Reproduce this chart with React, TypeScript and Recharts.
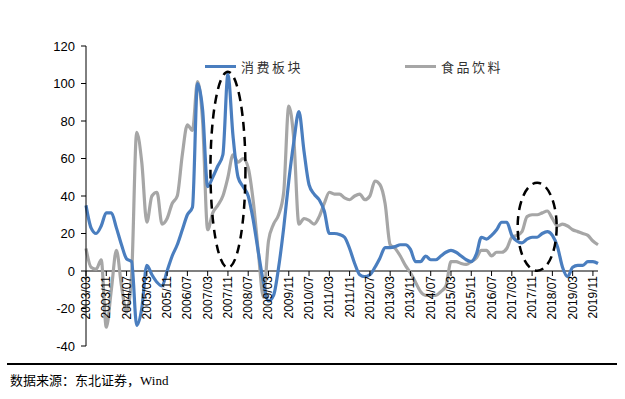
import React from 'react';
import { LineChart, Line, XAxis, YAxis, ReferenceLine, ReferenceDot } from 'recharts';

// bi-monthly points, 2003/03 .. 2020/01
const months: string[] = [];
for (let i = 0; i < 102; i++) {
  const m = 2 + i * 2; // 0-based month offset from 2003/01
  const y = 2003 + Math.floor(m / 12);
  const mm = (m % 12) + 1;
  months.push(`${y}/${mm < 10 ? '0' + mm : mm}`);
}

const consumer = [
  35, 23, 20, 24, 31, 31, 23, 14, 6.5, 5,
  -29, -20, 3, -2, -6, -8, 0, 8, 14, 22,
  30, 34, 100, 86, 45, 50, 56, 62, 105, 72,
  50, 45, 40, 27, 10, -6, -16, -13, 2, 23,
  48, 69, 85, 64, 46, 41, 38, 32, 20, 20,
  19.5, 18, 12, 4, -2, -3, -2, 2, 7, 12.5,
  12.5, 13, 14, 14, 11.5, 5, 5, 8, 6, 6,
  8, 10, 11, 10, 8, 6, 5, 9, 18, 17,
  19, 22, 26, 26, 19, 16, 15, 17, 18, 18,
  20, 21, 19, 13, 2, -3, 2, 3, 3, 5,
  5, 4,
];

const foodBev = [
  12, 2, 1, 6, -30, -10, 11, -8, -22, -2,
  74, 58, 26, 40, 42, 25, 28, 36, 40, 62,
  78, 75, 101, 80, 22, 31, 35, 40, 50, 62,
  58, 60, 55, 37, 10, -14, 16, 25, 30, 42,
  88, 70, 25, 28, 27, 25, 29, 36, 42, 41,
  41, 39, 38, 40, 41, 38, 40, 48, 46, 36,
  14, 12, 8, 3, -1, -6, -11, -13, -13, -13,
  -11, -8, 5, 5, 4, 3.5, 5, 7, 11, 11,
  8, 10, 10, 12, 18, 19, 21, 29, 30, 30,
  31, 32, 28, 24, 25, 24, 22, 21, 20, 19,
  16, 14,
];

const yTicks = [-40, -20, 0, 20, 40, 60, 80, 100, 120];

const data = months.map((m, i) => ({ month: m, consumer: consumer[i], foodBev: foodBev[i] }));

const BLUE = '#4a7ebf';
const GRAY = '#a6a6a6';
const TOP = 46;
const PLOT_H = 300;
const ZERO_Y = TOP + PLOT_H * (120 / 160);

function MonthTick(props: any) {
  const { x, payload } = props;
  return (
    <g transform={`translate(${x},${ZERO_Y})`}>
      <line x1={0} y1={0} x2={0} y2={5} stroke="#000" />
      <text transform="rotate(-90)" x={-5} y={4} textAnchor="end" fontSize={12} fill="#000"
        fontFamily="'Liberation Sans', Arial, sans-serif">
        {payload.value}
      </text>
    </g>
  );
}

function LegendItem({ left, color, label }: { left: number; color: string; label: string }) {
  return (
    <div style={{ position: 'absolute', left, top: 56, display: 'flex', alignItems: 'center', height: 20 }}>
      <div style={{ width: 31, height: 3, background: color, marginRight: 5 }} />
      <span style={{ fontSize: 13, letterSpacing: 2.5, color: '#333', fontFamily: "'Noto Sans CJK SC', sans-serif" }}>{label}</span>
    </div>
  );
}

const Ellipse = (rx: number, ry: number) => (p: any) => (
  <ellipse cx={p.cx} cy={p.cy} rx={rx} ry={ry} fill="none" stroke="#000" strokeWidth={2.5} strokeDasharray="9 6" />
);

export default function App() {
  return (
    <div style={{ position: 'absolute', left: 0, top: 0, width: 625, height: 399, background: '#fff' }}>
      <LineChart width={625} height={399} data={data} margin={{ top: TOP, right: 27, bottom: 52, left: 36 }}>
        <XAxis dataKey="month" interval={3} axisLine={false} tickLine={false} height={1} tick={<MonthTick />} />
        <YAxis domain={[-40, 120]} ticks={yTicks} width={50} axisLine={{ stroke: '#000' }}
          tickLine={{ stroke: '#000' }} tickSize={5} tickMargin={6}
          tick={{ fontSize: 13, fill: '#000', fontFamily: "'Liberation Sans', Arial, sans-serif" }} />
        <ReferenceLine y={0} stroke="#000" strokeWidth={1} />
        <Line type="monotone" dataKey="foodBev" stroke={GRAY} strokeWidth={3.2} dot={false} isAnimationActive={false} />
        <Line type="monotone" dataKey="consumer" stroke={BLUE} strokeWidth={3.2} dot={false} isAnimationActive={false} />
        <ReferenceDot x="2007/11" y={54} r={1} shape={Ellipse(17.5, 98)} />
        <ReferenceDot x="2018/01" y={23.6} r={1} shape={Ellipse(19.5, 44)} />
      </LineChart>
      <LegendItem left={205} color={BLUE} label="消费板块" />
      <LegendItem left={405} color={GRAY} label="食品饮料" />
      <div style={{ position: 'absolute', left: 7, top: 363, width: 610, height: 2, background: '#000' }} />
      <div style={{ position: 'absolute', left: 10, top: 370, fontSize: 13, color: '#000',
        fontFamily: "'Noto Sans CJK SC', 'Liberation Serif', serif" }}>
        数据来源：东北证券，<span style={{ fontFamily: "'Liberation Serif', serif" }}>Wind</span>
      </div>
    </div>
  );
}
